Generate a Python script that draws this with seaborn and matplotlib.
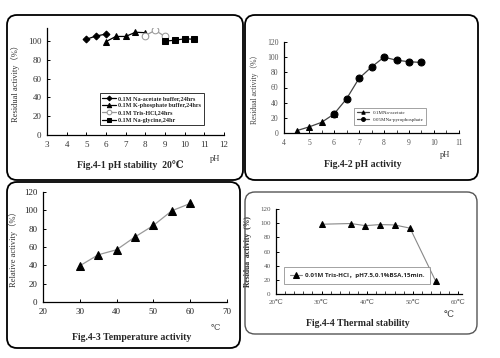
import matplotlib
matplotlib.use("Agg")
import matplotlib.pyplot as plt
from matplotlib.patches import FancyBboxPatch
import seaborn as sns
import pandas as pd

sns.set_theme(style="white")
SERIF = ["Liberation Serif", "DejaVu Serif", "Noto Sans CJK SC"]
plt.rcParams["font.family"] = SERIF

# ---- Data ----
# Fig.4-1 pH stability
acetate_ph = [5, 5.5, 6]
acetate_act = [102, 105.5, 107.5]
kphos_ph = [6, 6.5, 7, 7.5, 8]
kphos_act = [99.5, 105, 105, 109.5, 109]
tris_ph = [8, 8.5, 9]
tris_act = [106, 111.5, 105]
glycine_ph = [9, 9.5, 10, 10.5]
glycine_act = [100, 101, 102.5, 102]

# Fig.4-2 pH activity
acet2_ph = [4.5, 5, 5.5, 6]
acet2_act = [3, 8, 14, 25]
pyro_ph = [6, 6.5, 7, 7.5, 8, 8.5, 9, 9.5]
pyro_act = [25, 45, 72, 87, 100, 96, 94, 93]

# Fig.4-3 Temperature activity
temp3 = [30, 35, 40, 45, 50, 55, 60]
rel3 = [39.5, 51.5, 57, 71, 83.5, 99.5, 107.5]

# Fig.4-4 Thermal stability
temp4 = [30, 36.4, 39.6, 42.8, 46, 49.4, 55]
res4 = [98.5, 99.5, 96.5, 98, 97.5, 93, 18.5]

W, H = 500, 358
fig = plt.figure(figsize=(W / 100, H / 100), dpi=100)


def axes_px(left, top, right, bottom):
    return fig.add_axes([left / W, 1 - bottom / H, (right - left) / W, (bottom - top) / H])


def box_px(left, top, right, bottom, color="black", lw=1.3):
    p = FancyBboxPatch((left / 100, (H - bottom) / 100), (right - left) / 100, (bottom - top) / 100,
                       boxstyle="round,pad=0,rounding_size=0.1", transform=fig.dpi_scale_trans,
                       fill=False, edgecolor=color, linewidth=lw, zorder=0)
    fig.patches.append(p)


def style_ax(ax, tickcolor="black", fs=6):
    sns.despine(ax=ax)
    for s in ("left", "bottom"):
        ax.spines[s].set_color("black")
        ax.spines[s].set_linewidth(0.9)
    ax.tick_params(axis="both", direction="in", length=2.5, width=0.7, colors="black",
                   labelcolor=tickcolor, labelsize=fs, pad=4, left=True, bottom=True)
    ax.set_facecolor("none")
    ax.grid(False)


box_px(7, 15, 243, 180)
box_px(245, 15, 478, 180)
box_px(7, 182, 240, 348)
box_px(245, 192, 477, 334, color="#555555", lw=1.0)

# ---- Panel 1 ----
ax1 = axes_px(47, 28, 224, 135)
sns.lineplot(x=acetate_ph, y=acetate_act, ax=ax1, color="black", marker="D", markersize=3.5,
             markeredgecolor="black", linewidth=0.9, label="0.1M Na-acetate buffer,24hrs")
sns.lineplot(x=kphos_ph, y=kphos_act, ax=ax1, color="black", marker="^", markersize=4.5,
             markeredgecolor="black", linewidth=0.9, label="0.1M K-phosphate buffer,24hrs")
sns.lineplot(x=tris_ph, y=tris_act, ax=ax1, color="#999999", marker="o", markersize=4.8,
             markerfacecolor="white", markeredgecolor="#999999", linewidth=0.9,
             label="0.1M Tris-HCl,24hrs")
sns.lineplot(x=glycine_ph, y=glycine_act, ax=ax1, color="black", marker="s", markersize=4.5,
             markeredgecolor="black", linewidth=0.9, label="0.1M Na-glycine,24hr")
ax1.set_xlim(3, 12)
ax1.set_ylim(0, 114)
ax1.set_xticks(range(3, 13))
ax1.set_yticks(range(0, 101, 20))
style_ax(ax1, tickcolor="#333333", fs=6.5)
ax1.set_xlabel("")
ax1.set_ylabel("Residual activity（%）", fontsize=6, color="#333333", labelpad=6)
leg = ax1.legend(loc="upper left", bbox_to_anchor=((100 - 47) / 177, (135 - 93) / 107),
                 fontsize=4.4, frameon=True, fancybox=False, edgecolor="black", handlelength=2.2,
                 borderpad=0.4, labelspacing=0.35, handletextpad=0.4, borderaxespad=0,
                 markerscale=0.7)
for t in leg.get_texts():
    t.set_fontweight("bold")
leg.get_frame().set_linewidth(0.7)
fig.text(215 / W, 1 - 159 / H, "pH", fontsize=6, color="#333333", ha="center", va="center")
fig.text(130 / W, 1 - 165 / H, "Fig.4-1 pH stability  20℃", fontsize=7, fontweight="bold",
         ha="center", va="center")

# ---- Panel 2 ----
ax2 = axes_px(284, 42, 459, 133)
sns.lineplot(x=acet2_ph, y=acet2_act, ax=ax2, color="#444444", marker="^", markersize=4.5,
             markerfacecolor="black", markeredgecolor="black", linewidth=0.9, label="0.1MNa-acetate")
sns.lineplot(x=pyro_ph, y=pyro_act, ax=ax2, color="#444444", marker="o", markersize=5,
             markerfacecolor="black", markeredgecolor="black", linewidth=0.9,
             label="0.05MNa-pyrophosphate")
ax2.set_xlim(4, 11)
ax2.set_ylim(0, 120)
ax2.set_xticks(range(4, 12))
ax2.set_yticks(range(0, 121, 20))
style_ax(ax2, tickcolor="#555555", fs=5.5)
ax2.set_xticks([x + 0.5 for x in range(4, 11)], minor=True)
ax2.tick_params(axis="x", which="minor", direction="in", length=2, width=0.6, bottom=True)
ax2.set_xlabel("")
ax2.set_ylabel("Residual activity（%）", fontsize=5.5, color="#444444", labelpad=6)
leg2 = ax2.legend(loc="upper left", bbox_to_anchor=((354 - 284) / 175, (133 - 108) / 91),
                  fontsize=3.6, frameon=True, fancybox=False, edgecolor="#777777",
                  handlelength=2.5, borderpad=0.5, labelspacing=0.5, markerscale=0.55,
                  borderaxespad=0)
leg2.get_frame().set_linewidth(0.6)
fig.text(445 / W, 1 - 155 / H, "pH", fontsize=6, color="#333333", ha="center", va="center")
fig.text(363 / W, 1 - 164 / H, "Fig.4-2 pH activity", fontsize=7, fontweight="bold",
         ha="center", va="center")

# ---- Panel 3 ----
ax3 = axes_px(43, 192, 227, 302)
sns.lineplot(x=temp3, y=rel3, ax=ax3, color="#999999", marker="^", markersize=5.5,
             markerfacecolor="black", markeredgecolor="black", linewidth=0.9)
ax3.set_xlim(20, 70)
ax3.set_ylim(0, 120)
ax3.set_xticks(range(20, 71, 10))
ax3.set_yticks(range(0, 121, 20))
style_ax(ax3, tickcolor="#222222", fs=6.5)
ax3.set_xlabel("")
ax3.set_ylabel("Relative activity（%）", fontsize=6, color="#333333", labelpad=4)
fig.text(215 / W, 1 - 328 / H, "℃", fontsize=6, color="#444444", ha="center", va="center")
fig.text(132 / W, 1 - 337 / H, "Fig.4-3 Temperature activity", fontsize=7, fontweight="bold",
         ha="center", va="center")

# ---- Panel 4 ----
ax4 = axes_px(276, 209, 462, 294)
sns.lineplot(x=temp4, y=res4, ax=ax4, color="#888888", marker="^", markersize=4.8,
             markerfacecolor="black", markeredgecolor="black", linewidth=0.8,
             label="0.01M Tris-HCl，pH7.5,0.1%BSA,15min.")
ax4.set_xlim(20, 60.8)
ax4.set_ylim(0, 120)
ax4.set_xticks(range(20, 61, 10))
ax4.set_xticklabels([f"{v}℃" for v in range(20, 61, 10)])
ax4.set_yticks(range(0, 121, 20))
style_ax(ax4, tickcolor="#555555", fs=5)
ax4.set_xticks(range(22, 61, 2), minor=True)
ax4.tick_params(axis="x", which="minor", direction="in", length=2, width=0.6, bottom=True)
ax4.set_xlabel("")
ax4.set_ylabel("Residua  activity  (%)", fontsize=5.5, fontweight="bold", labelpad=6)
leg4 = ax4.legend(loc="upper left", bbox_to_anchor=((284 - 276) / 186, (294 - 267) / 85),
                  prop={"family": ["Open Sans", "Noto Sans CJK SC"], "size": 4.5, "weight": "bold"},
                  frameon=True, fancybox=False, edgecolor="#777777", handlelength=2.0,
                  borderpad=0.9, borderaxespad=0, markerscale=0.85, handletextpad=0.5)
leg4.get_frame().set_linewidth(0.6)
fig.text(449 / W, 1 - 315 / H, "℃", fontsize=6.5, color="#333333", ha="center", va="center")
fig.text(358 / W, 1 - 323 / H, "Fig.4-4 Thermal stability", fontsize=7, fontweight="bold",
         ha="center", va="center")

fig.savefig("out.png", dpi=100, facecolor="white")
